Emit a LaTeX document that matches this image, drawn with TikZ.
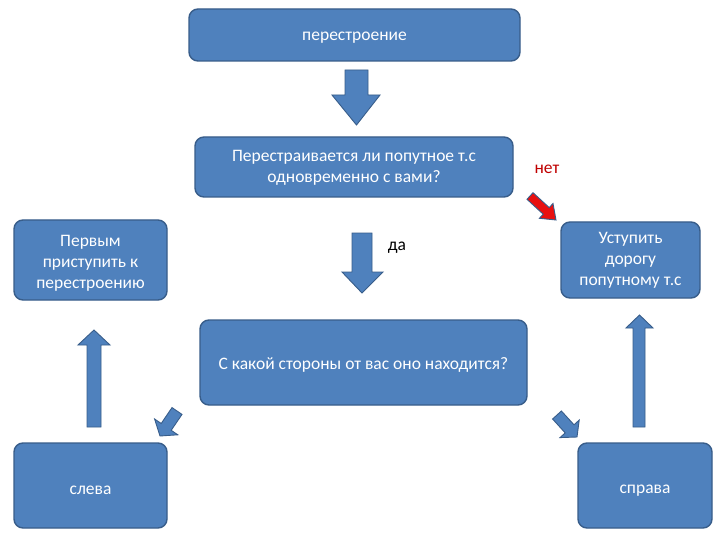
\documentclass[tikz,border=0pt]{standalone}
\usepackage{fontspec}
\setmainfont{Carlito}
\definecolor{boxblue}{HTML}{4F81BD}
\definecolor{boxedge}{HTML}{385D8A}
\definecolor{netred}{HTML}{C00000}
\definecolor{arrred}{HTML}{E81010}
\begin{document}
\begin{tikzpicture}[x=1pt,y=-1pt,
  bbox/.style={draw=boxedge,line width=1.4pt,fill=boxblue,rounded corners=9pt},
  btext/.style={text=white,align=center,inner sep=0pt,font=\fontsize{17.5}{21}\selectfont},
  blk/.style={draw=boxedge,line width=0.9pt,fill=boxblue,line join=miter},
  redblk/.style={draw=boxedge,line width=0.9pt,fill=arrred,line join=miter}]
\useasboundingbox (0,0) rectangle (720,540);
\fill[white] (0,0) rectangle (720,540);

% boxes
\draw[bbox] (189,9) rectangle (520,61);
\node[btext] (t1) at (354.5,38) {перестроение};

\draw[bbox] (195,137) rectangle (513,197);
\node[btext] (t2) at (354,167.5) {Перестраивается ли попутное т.с\\одновременно с вами?};

\draw[bbox] (14,220) rectangle (167,300);
\node[btext] (t3) at (90.5,263) {Первым\\приступить к\\перестроению};

\draw[bbox] (561,222) rectangle (700,298);
\node[btext] (t4) at (630.5,260) {Уступить\\дорогу\\попутному т.с};

\draw[bbox] (200,320) rectangle (527,405);
\node[btext] (t5) at (363.5,365) {С какой стороны от вас оно находится?};

\draw[bbox] (14,443) rectangle (167,528);
\node[btext] (t6) at (90.5,490) {слева};

\draw[bbox] (578,443) rectangle (712,528);
\node[btext] (t7) at (645,491) {справа};

% labels
\node[text=netred,inner sep=0pt,font=\fontsize{17.5}{21}\selectfont] (net) at (547,169) {нет};
\node[text=black,inner sep=0pt,font=\fontsize{17.5}{21}\selectfont] (da) at (397,248) {да};

% block arrows
\draw[blk] (345,70) -- (368,70) -- (368,95) -- (380,95) -- (356.5,125) -- (332,95) -- (345,95) -- cycle;
\draw[blk] (352,233) -- (372,233) -- (372,272) -- (383,272) -- (362,293) -- (342,272) -- (352,272) -- cycle;
\draw[blk] (87,427) -- (101,427) -- (101,345) -- (110,345) -- (94,330) -- (78,345) -- (87,345) -- cycle;
\draw[blk] (633,427) -- (645,427) -- (645,328) -- (653,328) -- (639.5,315) -- (626,328) -- (633,328) -- cycle;
\draw[redblk] (527.0,199.3) -- (543.2,214.2) -- (539.4,218.3) -- (556,220) -- (553.0,203.5) -- (549.2,207.6) -- (533.0,192.7) -- cycle;
\draw[blk] (182.0,414.4) -- (171.2,430.3) -- (177.8,434.8) -- (160,436) -- (154.6,419.0) -- (161.2,423.5) -- (172.0,407.6) -- cycle;
\draw[blk] (552.6,419.0) -- (565.2,432.9) -- (560.0,437.6) -- (577,437) -- (579.2,420.1) -- (574.0,424.8) -- (561.4,411.0) -- cycle;
\end{tikzpicture}
\end{document}
